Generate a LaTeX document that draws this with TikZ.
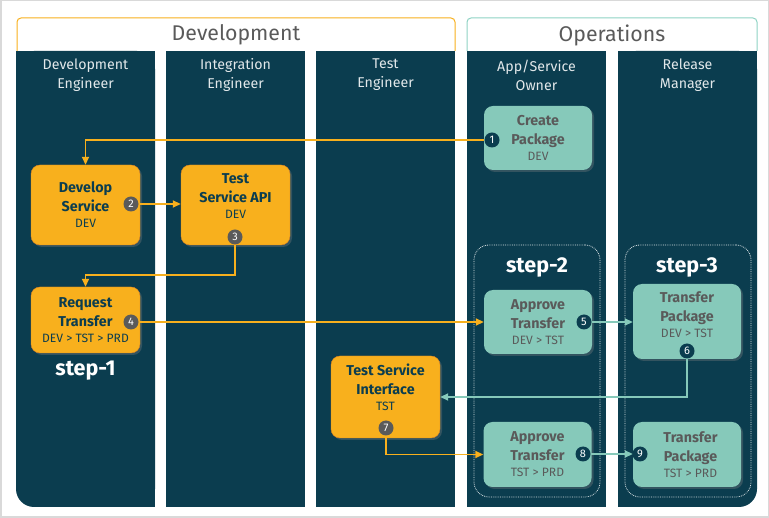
\documentclass[tikz,border=0pt]{standalone}
\usepackage{fontspec}
\setmainfont{Fira Sans}
\usepackage{tikz}
\usetikzlibrary{positioning, arrows.meta, shadows}

\definecolor{lane}{HTML}{0B3D4F}
\definecolor{devorange}{HTML}{F8B01D}
\definecolor{devedge}{HTML}{E5871F}
\definecolor{opsteal}{HTML}{86C9BA}
\definecolor{opsline}{HTML}{8FD3C4}
\definecolor{boxgray}{HTML}{5A5A5A}
\definecolor{framegray}{HTML}{D9D9D9}

\newcommand{\envtag}[1]{{\mdseries\fontsize{12.1}{15}\selectfont #1}}

\begin{document}
\begin{tikzpicture}[
    x=1pt, y=-1pt,
    lanetitle/.style={
        text=white!88!lane,
        align=center,
        font=\fontsize{14.2}{19}\selectfont
    },
    grouptitle/.style={
        text=boxgray,
        font=\fontsize{21.3}{24}\selectfont
    },
    devbox/.style={
        rectangle,
        rounded corners=9pt,
        draw=devedge,
        fill=devorange,
        text=lane,
        align=center,
        minimum width=109pt,
        inner sep=2pt,
        font=\fontsize{14.3}{19}\selectfont\bfseries,
        drop shadow={shadow xshift=2pt, shadow yshift=-2pt, opacity=0.35}
    },
    opsbox/.style={
        rectangle,
        rounded corners=9pt,
        fill=opsteal,
        text=boxgray,
        align=center,
        minimum width=108pt,
        inner sep=2pt,
        font=\fontsize{14.3}{19}\selectfont\bfseries,
        drop shadow={shadow xshift=2pt, shadow yshift=-2pt, opacity=0.35}
    },
    badge/.style={
        circle,
        fill=boxgray,
        text=white,
        inner sep=0pt,
        minimum size=15pt,
        font=\fontsize{11}{11}\selectfont
    },
    opsbadge/.style={badge, fill=lane},
    stepframe/.style={
        rectangle,
        rounded corners=15pt,
        draw=white!85!lane,
        densely dotted,
        line width=0.8pt,
        minimum width=126pt,
        minimum height=252pt
    },
    steptitle/.style={text=white, font=\fontsize{21.5}{24}\selectfont\bfseries},
    oline/.style={draw=devorange, line width=1.8pt, -{Triangle[length=8pt,width=7pt]}},
    tline/.style={draw=opsteal, line width=1.8pt, -{Triangle[length=8pt,width=7pt]}}
]
\useasboundingbox (0,0) rectangle (769,518);
\draw[framegray, line width=1.5pt] (0.75,0.75) rectangle (768.25,517.25);

% group headers
\draw[devorange, line width=1pt, rounded corners=4pt, fill=white] (17,51) -- (17,18) -- (455,18) -- (455,51);
\draw[opsline, line width=1pt, rounded corners=4pt, fill=white] (467,51) -- (467,18) -- (757,18) -- (757,51);
\node[grouptitle] (devhead) at (236,35) {Development};
\node[grouptitle] (opshead) at (612,35) {Operations};

% swim lanes
\fill[lane, rounded corners=18pt] (16,51) rectangle (155,507);
\fill[lane] (16,51) rectangle (155,480);
\fill[lane] (50,51) rectangle (155,507);
\foreach \xa/\xb in {166/305, 316/455, 467/606}
    \fill[lane] (\xa,51) rectangle (\xb,507);
\fill[lane, rounded corners=18pt] (618,51) rectangle (757,507);
\fill[lane] (618,51) rectangle (757,480);
\fill[lane] (618,51) rectangle (720,507);

\node[lanetitle] (l1) at (85.5,75) {Development\\Engineer};
\node[lanetitle] (l2) at (235.5,75) {Integration\\Engineer};
\node[lanetitle] (l3) at (385.5,75) {Test\\Engineer};
\node[lanetitle] (l4) at (536.5,75) {App/Service\\Owner};
\node[lanetitle] (l5) at (687.5,75) {Release\\Manager};

% step frames
\node[stepframe] (frame2) at (537,371) {};
\node[stepframe] (frame3) at (688,371) {};
\node[steptitle] (s1) at (85.5,371) {step-1};
\node[steptitle] (s2) at (537,267) {step-2};
\node[steptitle] (s3) at (687,267) {step-3};

% tasks
\node[opsbox, minimum height=64pt] (pkg) at (538,138) {Create\\Package\\[-3pt]\envtag{DEV}};
\node[devbox, minimum height=80pt] (dev) at (85.5,205) {Develop\\Service\\[-3pt]\envtag{DEV}};
\node[devbox, minimum height=80pt] (tsa) at (235.5,205) {Test\\Service API\\[-3pt]\envtag{DEV}\\[-1pt]\mbox{}};
\node[devbox, minimum height=66pt] (req) at (85.5,320) {Request\\Transfer\\[-3pt]\envtag{DEV > TST > PRD}};
\node[opsbox, minimum height=64pt] (apr1) at (538,322) {Approve\\Transfer\\[-3pt]\envtag{DEV > TST}};
\node[opsbox, minimum height=75pt] (tp1) at (687,321.5) {Transfer\\Package\\[-3pt]\envtag{DEV > TST}\\[-5pt]\mbox{}};
\node[devbox, minimum height=82pt] (tsi) at (385.5,397) {Test Service\\Interface\\[-3pt]\envtag{TST}\\[1pt]\mbox{}};
\node[opsbox, minimum height=65pt] (apr2) at (537.5,454.5) {Approve\\Transfer\\[-3pt]\envtag{TST > PRD}};
\node[opsbox, minimum height=65pt] (tp2) at (687,454.5) {\hspace{7pt}Transfer\\\hspace{7pt}Package\\[-3pt]\hspace{7pt}\envtag{TST > PRD}};

% badges
\node[opsbadge] (b1) at (492,140) {1};
\node[badge] (b2) at (131,204) {2};
\node[badge] (b3) at (235,237) {3};
\node[badge] (b4) at (131,322) {4};
\node[opsbadge] (b5) at (584,322) {5};
\node[opsbadge] (b6) at (687,351) {6};
\node[badge] (b7) at (386,428) {7};
\node[opsbadge] (b8) at (583,454) {8};

% flow
\path[oline] (b1.west) -| (dev.north);
\path[oline] (b2.east) -- (tsa.west |- b2.east);
\path[oline] (b3.south) -- ++(0,30) -| (req.north);
\path[oline] (b4.east) -- (apr1.west |- b4.east);
\path[tline] (b5.east) -- (tp1.west |- b5.east);
\path[tline] (b6.south) |- (tsi.east);
\path[oline] (b7.south) |- (apr2.west);
\path[tline] (b8.east) -- (tp2.west |- b8.east);
\node[opsbadge] (b9) at (640,454) {9};

\end{tikzpicture}
\end{document}
